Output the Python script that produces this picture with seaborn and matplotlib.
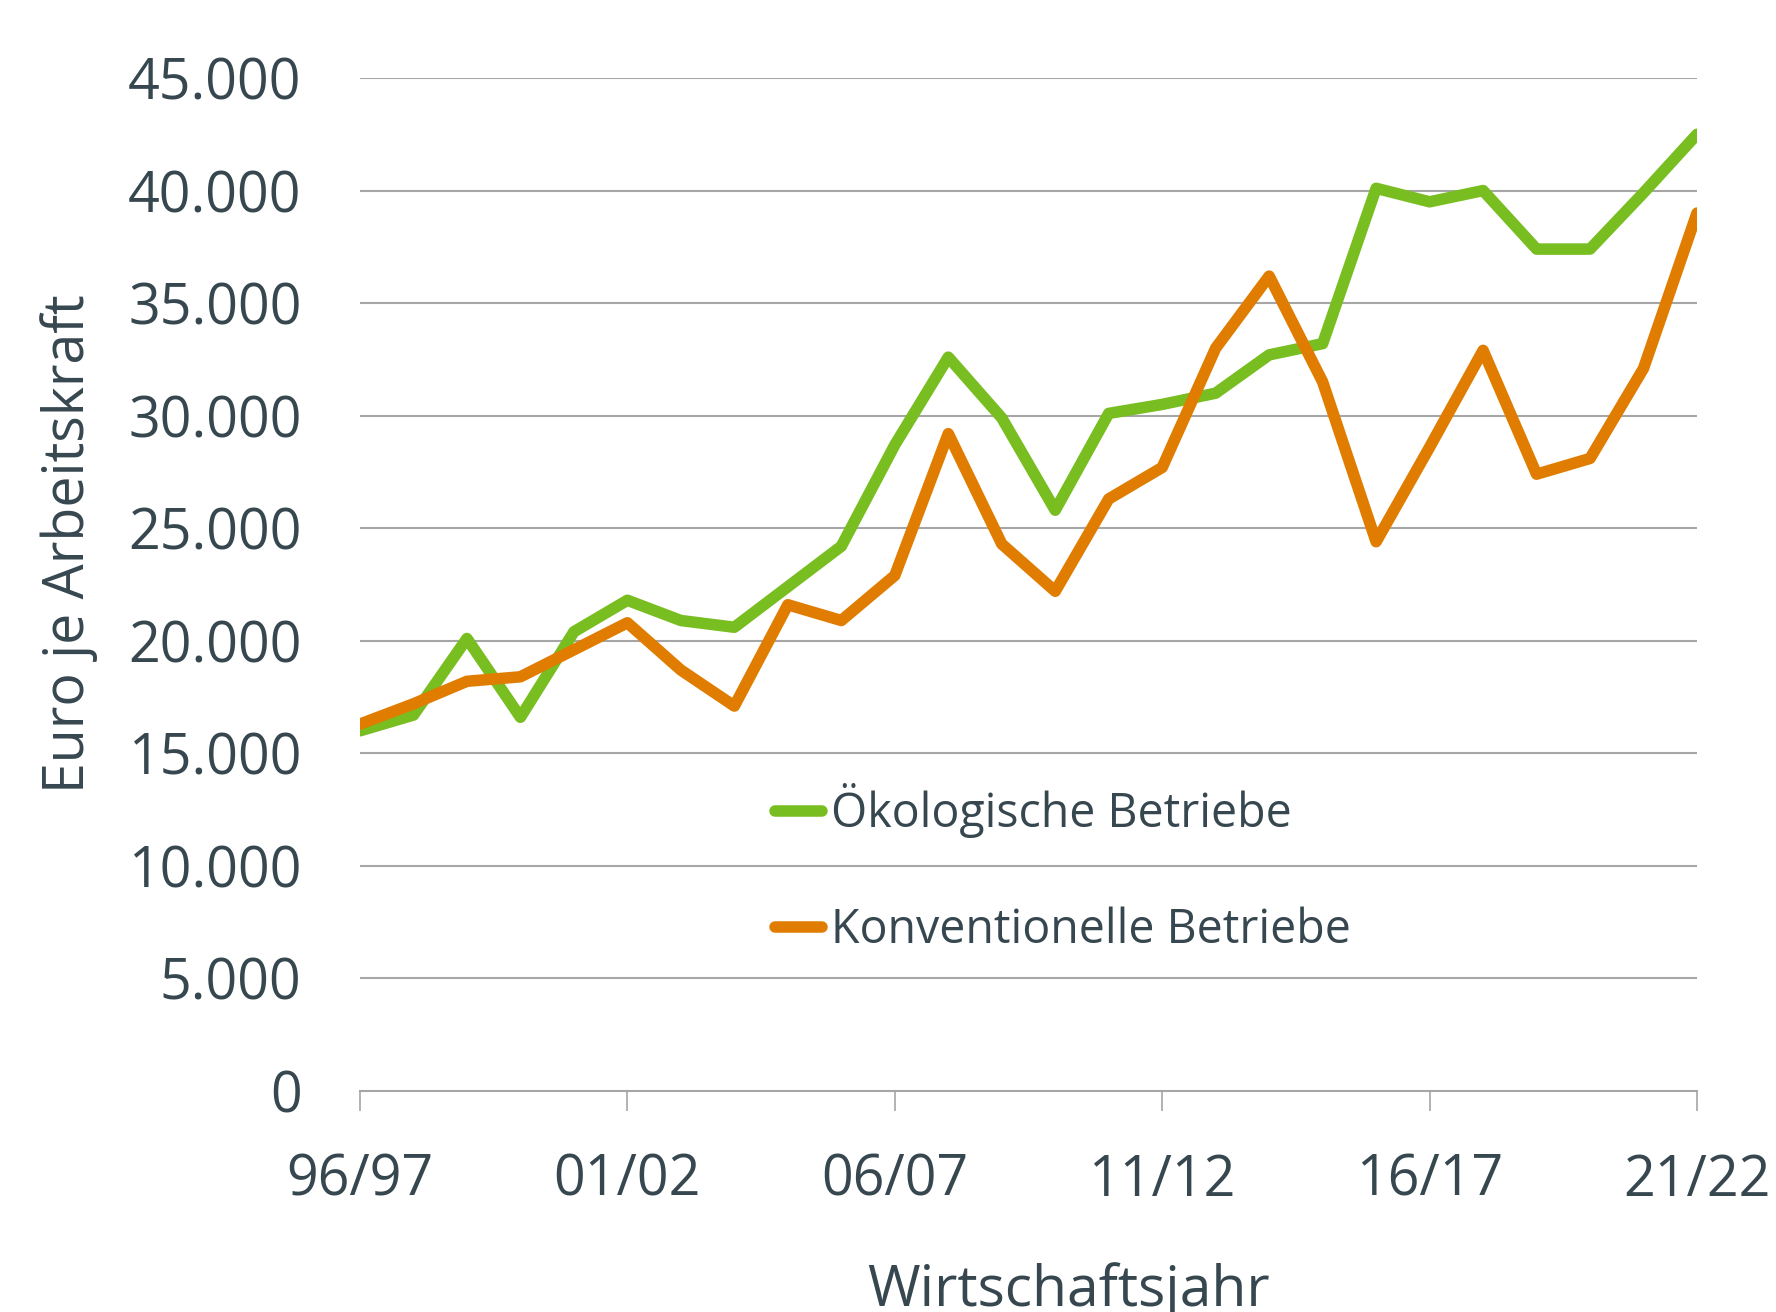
import pandas as pd
import matplotlib.pyplot as plt
import seaborn as sns
from matplotlib.lines import Line2D

jahre = ["96/97", "97/98", "98/99", "99/00", "00/01", "01/02", "02/03", "03/04",
         "04/05", "05/06", "06/07", "07/08", "08/09", "09/10", "10/11", "11/12",
         "12/13", "13/14", "14/15", "15/16", "16/17", "17/18", "18/19", "19/20",
         "20/21", "21/22"]

oeko = [16000, 16700, 20100, 16600, 20400, 21800, 20900, 20600, 22400, 24200,
        28700, 32600, 29900, 25800, 30100, 30500, 31000, 32700, 33200, 40100,
        39500, 40000, 37400, 37400, 39900, 42500]

konv = [16300, 17200, 18200, 18400, 19600, 20800, 18700, 17100, 21600, 20900,
        22900, 29200, 24300, 22200, 26300, 27700, 33000, 36200, 31500, 24400,
        28600, 32900, 27400, 28100, 32100, 39000]

serien = ["Ökologische Betriebe", "Konventionelle Betriebe"]
farben = ["#78be20", "#e07d00"]
y_ticks = [0, 5000, 10000, 15000, 20000, 25000, 30000, 35000, 40000, 45000]
x_tick_pos = [0, 5, 10, 15, 20, 25]

text_col = "#37474f"
grid_col = "#a6a6a6"

df = pd.DataFrame({
    "x": list(range(len(jahre))) * 2,
    "wert": oeko + konv,
    "serie": [serien[0]] * len(oeko) + [serien[1]] * len(konv),
})

sns.set_theme(style="white")
plt.rcParams["font.family"] = ["Open Sans", "DejaVu Sans"]

fig = plt.figure(figsize=(17.76, 13.12), dpi=100)
ax = fig.add_axes([360 / 1776, 1 - 1091 / 1312, (1697 - 360) / 1776, (1091 - 78) / 1312])

for y in y_ticks[1:]:
    ax.axhline(y, color=grid_col, lw=1.5, zorder=0)

sns.lineplot(data=df, x="x", y="wert", hue="serie", palette=farben, hue_order=serien,
             linewidth=8.3, ax=ax, legend=False)
for line in ax.lines:
    line.set_solid_joinstyle("round")

ax.set_xlim(0, len(jahre) - 1)
ax.set_ylim(0, 45000)
ax.set_yticks(y_ticks)
ax.set_yticklabels([f"{v:,}".replace(",", ".") for v in y_ticks])
ax.set_xticks(x_tick_pos)
ax.set_xticklabels([jahre[i] for i in x_tick_pos])

for s in ["top", "right", "left"]:
    ax.spines[s].set_visible(False)
ax.spines["bottom"].set_color(grid_col)
ax.spines["bottom"].set_linewidth(1.5)

ax.tick_params(axis="y", left=False, length=0, pad=42, labelsize=40, labelcolor=text_col)
ax.tick_params(axis="x", bottom=True, length=14.4, width=1.2, color=grid_col,
               direction="out", pad=30, labelsize=40, labelcolor=text_col)

ax.set_xlabel("")
ax.set_ylabel("Euro je Arbeitskraft", fontsize=40, color=text_col)
ax.yaxis.set_label_coords(-0.196, 0.54)
fig.text(1068 / 1776, 1 - 1306 / 1312, "Wirtschaftsjahr", fontsize=41, color=text_col,
         ha="center", va="baseline")

handles = [Line2D([0], [0], color=c, lw=8.3) for c in farben]
leg = ax.legend(handles, serien, loc="upper left", bbox_to_anchor=(0.2965, 0.322),
                frameon=False, fontsize=33.5, handlelength=1.02, handletextpad=0.18,
                labelspacing=1.46, borderaxespad=0)
for t in leg.get_texts():
    t.set_color(text_col)

fig.savefig("out.png", dpi=100)
